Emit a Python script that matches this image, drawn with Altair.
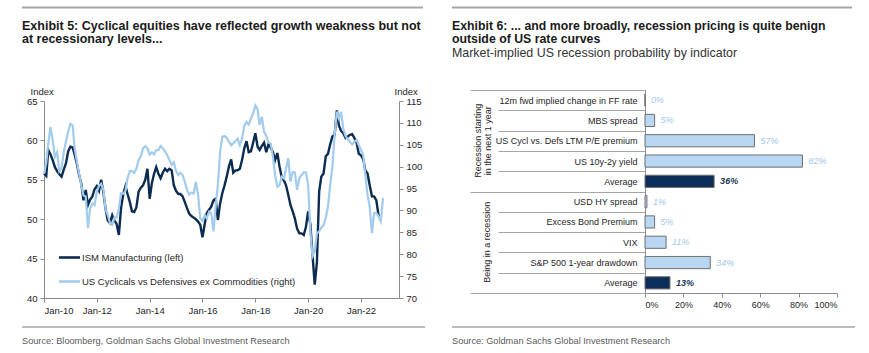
import json
import altair as alt
import pandas as pd

# ---------------- data ----------------
ism_values = [
    55.8, 55.5, 58.8, 58.2, 57.5, 56.6, 56.1, 55.7, 55.4, 56.3, 57.1, 58.6,
    59.2, 59.1, 58.2, 57.0, 55.6, 54.5, 52.4, 53.7, 51.8, 52.5, 52.9, 53.8,
    54.2, 53.6, 55.0, 53.4, 51.3, 49.8, 49.5, 50.5, 49.8, 49.4, 48.0, 51.4,
    53.2, 54.2, 53.2, 52.2, 51.0, 50.9, 51.5, 53.5, 54.0, 54.3, 55.0, 56.4,
    52.6, 54.6, 55.7, 56.6, 55.8, 55.2, 55.9, 56.4, 56.1, 56.4, 56.2, 54.3,
    53.6, 53.2, 53.2, 52.9, 52.2, 51.4, 50.7, 50.4, 50.2, 50.0, 49.7, 49.3,
    47.7, 49.4, 50.8, 51.2, 51.6, 52.4, 52.6, 49.9, 52.0, 53.3, 54.3, 55.4,
    56.7, 57.6, 55.9, 56.2, 56.2, 56.4, 57.5, 59.0, 59.9, 58.5, 58.6, 59.7,
    60.9, 59.2, 58.8, 59.3, 59.7, 58.5, 59.5, 59.1, 58.5, 57.5, 58.4, 56.7,
    55.3, 54.9, 54.3, 53.1, 51.8, 51.0, 50.1, 48.8, 48.2, 48.2, 48.0, 49.0,
    51.0, 49.3, 45.5, 41.7, 44.5, 53.5, 55.4, 55.8, 58.0, 58.3, 59.5, 60.5,
    60.7, 63.8, 61.9, 61.2, 60.9, 60.3, 60.5, 60.7, 60.8, 60.3, 59.7, 58.3,
    58.1, 57.6, 56.2, 55.8, 54.3, 52.9, 52.9, 52.4, 50.4,
]
cyc_values = [
    98.4, 100.8, 105.3, 109.1, 106.0, 102.2, 103.3, 99.0, 99.7, 103.3, 105.8, 108.0,
    109.8, 109.4, 104.2, 101.1, 98.4, 95.7, 93.4, 93.2, 86.0, 90.5, 91.6, 91.2,
    94.3, 95.6, 96.1, 94.7, 90.2, 88.9, 87.1, 86.7, 88.4, 88.4, 90.5, 93.9,
    93.8, 94.5, 97.4, 99.0, 99.0, 98.6, 99.5, 101.5, 102.4, 104.2, 104.7, 104.2,
    102.8, 103.3, 102.8, 103.8, 103.8, 104.7, 104.2, 103.5, 102.6, 101.5, 100.4, 101.0,
    99.0, 98.1, 98.6, 98.1, 96.6, 94.7, 93.6, 94.1, 93.9, 96.5, 93.6, 88.2,
    87.6, 88.9, 88.2, 89.7, 89.4, 85.2, 90.9, 95.8, 103.4, 106.8, 107.0, 106.6,
    105.7, 104.9, 105.3, 105.8, 106.4, 104.9, 106.4, 109.3, 110.2, 109.6, 111.0, 112.1,
    114.0, 113.1, 109.5, 111.4, 108.0, 107.0, 105.5, 105.3, 102.3, 98.1, 95.4, 95.8,
    97.7, 97.3, 99.6, 101.9, 96.6, 98.8, 98.7, 94.7, 97.3, 98.1, 98.7, 98.7,
    95.8, 85.2, 79.5, 80.6, 84.8, 85.2, 86.1, 86.6, 88.4, 90.9, 95.8, 100.0,
    107.2, 112.6, 111.0, 112.5, 108.7, 107.0, 106.3, 105.7, 105.1, 105.7, 106.1, 104.9,
    103.8, 102.6, 98.1, 93.5, 90.9, 84.8, 89.4, 89.4, 88.6, 87.5, 92.8,
]
ism_dates = pd.date_range("2010-01-01", periods=len(ism_values), freq="MS").strftime("%Y-%m-%d").tolist()
cyc_dates = pd.date_range("2010-01-01", periods=len(cyc_values), freq="MS").strftime("%Y-%m-%d").tolist()

left_ticks = [40, 45, 50, 55, 60, 65]
right_ticks = [70, 75, 80, 85, 90, 95, 100, 105, 110, 115]
year_ticks = [2010, 2012, 2014, 2016, 2018, 2020, 2022]

bar_labels = ["12m fwd implied change in FF rate", "MBS spread", "US Cycl vs. Defs LTM P/E premium",
              "US 10y-2y yield", "Average", "USD HY spread", "Excess Bond Premium", "VIX",
              "S&P 500 1-year drawdown", "Average"]
bar_values = [0, 5, 57, 82, 36, 1, 5, 11, 34, 13]
group_names = ["Recession starting in the next 1 year", "Being in a recession"]
group_text = ["Recession starting\nin the next 1 year", "Being in a recession"]
bar_groups = [group_names[0]] * 5 + [group_names[1]] * 5
pct_ticks = [0, 0.2, 0.4, 0.6, 0.8, 1.0]

# ---------------- style ----------------
FONT = "Liberation Sans, Arial, sans-serif"
DARK = "#0c2b50"
LIGHT = "#a2cbee"
BAR_LIGHT = "#b7d7f2"
BAR_DARK = "#0b2f5a"
LBL_LIGHT = "#a4c7e8"
LBL_DARK = "#1c3557"
AXIS_GRAY = "#8c8c8c"
RULE_GRAY = "#a6a6a6"
TXT = "#262626"

one = alt.Data(values=[{"k": 0}])


def text(t, x, y, size=9.5, weight="normal", color=TXT, align="left", baseline="alphabetic"):
    return alt.Chart(one).mark_text(text=t, align=align, baseline=baseline, font=FONT,
                                    fontSize=size, fontWeight=weight, color=color).encode(
        x=alt.value(x), y=alt.value(y))


def hrule(x1, x2, y, color=RULE_GRAY, width=2.0):
    return alt.Chart(one).mark_rule(color=color, strokeWidth=width).encode(
        x=alt.value(x1), x2=alt.value(x2), y=alt.value(y))


# ---------------- left panel: lines ----------------
ism_df = pd.DataFrame({"date": ism_dates, "value": ism_values})
cyc_df = pd.DataFrame({"date": cyc_dates, "value": cyc_values})

xdate_scale = alt.Scale(type="utc",
                        domain=[alt.DateTime(year=2010, month=1, date=1, utc=True),
                                alt.DateTime(year=2023, month=6, date=10, utc=True)],
                        range=[44, 399])

date_axis = alt.Axis(orient="bottom", offset=-55, labelExpr="utcFormat(datum.value, '%b-%y')",
                     values=[alt.DateTime(year=y, month=1, date=1, utc=True) for y in year_ticks],
                     title=None, tickSize=4, labelPadding=3, domainColor=AXIS_GRAY, tickColor=AXIS_GRAY,
                     labelFontSize=9.5, labelColor=TXT, grid=False)

ism_line = alt.Chart(ism_df).mark_line(color=DARK, strokeWidth=2.4).encode(
    x=alt.X("date:T", scale=xdate_scale, axis=date_axis),
    y=alt.Y("value:Q", scale=alt.Scale(domain=[40, 65], range=[298, 101], nice=False, zero=False),
            axis=alt.Axis(orient="left", offset=-44, values=left_ticks, title="Index",
                          titleAngle=0, titleX=-14, titleY=94, titleAlign="left", titleBaseline="alphabetic",
                          titleFontSize=9.5, titleFontWeight="normal", titleColor=TXT,
                          tickSize=4, labelPadding=3, domainColor=AXIS_GRAY, tickColor=AXIS_GRAY,
                          labelFontSize=9.5, labelColor=TXT, grid=False)),
)

cyc_line = alt.Chart(cyc_df).mark_line(color=LIGHT, strokeWidth=2.2).encode(
    x=alt.X("date:T", scale=xdate_scale, axis=None),
    y=alt.Y("value:Q", scale=alt.Scale(domain=[70, 115], range=[298, 101], nice=False, zero=False),
            axis=alt.Axis(orient="right", offset=-470, values=right_ticks, title="Index",
                          titleAngle=0, titleX=-5, titleY=94, titleAlign="left", titleBaseline="alphabetic",
                          titleFontSize=9.5, titleFontWeight="normal", titleColor=TXT,
                          tickSize=4, labelPadding=3, domainColor=AXIS_GRAY, tickColor=AXIS_GRAY,
                          labelFontSize=9.5, labelColor=TXT, grid=False)),
)

legend = [
    hrule(59, 80, 257.5, color=DARK, width=2.6),
    text("ISM Manufacturing (left)", 82, 257.5, size=9.5, baseline="middle"),
    hrule(59, 80, 281.5, color=LIGHT, width=2.6),
    text("US Cyclicals vs Defensives ex Commodities (right)", 82, 281.5, size=9.5, baseline="middle"),
]

# ---------------- right panel: bars ----------------
bar_df = pd.DataFrame({
    "row": list(range(len(bar_labels))),
    "label": bar_labels,
    "value": [v / 100 for v in bar_values],
    "group": bar_groups,
    "kind": ["avg" if l == "Average" else "ind" for l in bar_labels],
})

row_scale = alt.Scale(type="band", domain=list(range(len(bar_labels))), range=[90, 293],
                      paddingInner=0, paddingOuter=0)
pct_scale = alt.Scale(domain=[0, 1], range=[645, 837], nice=False, zero=True)
grp_scale = alt.Scale(type="band", domain=group_names, range=[90, 293], paddingInner=0, paddingOuter=0)

label_expr = json.dumps(bar_labels) + "[datum.value]"

bars = alt.Chart(bar_df).mark_bar(height=alt.RelativeBandSize(0.6), stroke="#6f6f6f", strokeWidth=1).encode(
    y=alt.Y("row:O", scale=row_scale,
            axis=alt.Axis(orient="left", offset=-645, tickBand="extent", tickSize=147, labelPadding=-139,
                          labelExpr=label_expr, labelAlign="right", labelBaseline="middle",
                          labelFontSize=9, labelColor=TXT, tickColor=RULE_GRAY, domainColor=AXIS_GRAY,
                          title=None, grid=False, labelLimit=300)),
    x=alt.X("value:Q", scale=pct_scale,
            axis=alt.Axis(orient="bottom", offset=-60, format=".0%", values=pct_ticks, tickSize=4,
                          labelPadding=3, domainColor=AXIS_GRAY, tickColor=AXIS_GRAY,
                          labelFontSize=9, labelColor=TXT, title=None, grid=False)),
    color=alt.Color("kind:N", scale=alt.Scale(domain=["ind", "avg"], range=[BAR_LIGHT, BAR_DARK]), legend=None),
)

val_ind = alt.Chart(bar_df).transform_filter("datum.kind == 'ind'").mark_text(
    align="left", baseline="middle", dx=6, fontStyle="italic", fontSize=9, font=FONT, color=LBL_LIGHT).encode(
    y=alt.Y("row:O", scale=row_scale, axis=None),
    x=alt.X("value:Q", scale=pct_scale, axis=None),
    text=alt.Text("value:Q", format=".0%"),
)
val_avg = alt.Chart(bar_df).transform_filter("datum.kind == 'avg'").mark_text(
    align="left", baseline="middle", dx=6, fontStyle="italic", fontWeight="bold", fontSize=9, font=FONT,
    color=LBL_DARK).encode(
    y=alt.Y("row:O", scale=row_scale, axis=None),
    x=alt.X("value:Q", scale=pct_scale, axis=None),
    text=alt.Text("value:Q", format=".0%"),
)

grp_df = pd.DataFrame({"group": group_names, "text": group_text})
group_axis = alt.Chart(grp_df).mark_point(opacity=0).encode(
    x=alt.value(645),
    y=alt.Y("group:N", scale=grp_scale,
            axis=alt.Axis(orient="left", offset=-645, tickBand="extent", tickSize=175, labels=False,
                          tickColor=RULE_GRAY, domain=False, title=None, grid=False)),
)


def group_label(i, xpos):
    return alt.Chart(grp_df).transform_filter(f"datum.group == '{group_names[i]}'").mark_text(
        angle=270, align="center", baseline="middle", lineBreak="\n", lineHeight=10,
        fontSize=9, font=FONT, color=TXT).encode(
        x=alt.value(xpos),
        y=alt.Y("group:N", scale=grp_scale, axis=None, bandPosition=0.5),
        text="text:N",
    )


# ---------------- titles / sources ----------------
TCOL = "#1a1a1a"
texts = [
    hrule(22, 423, 7.5),
    hrule(452, 852, 7.5),
    text("Exhibit 5: Cyclical equities have reflected growth weakness but not", 22, 29.5, size=12.5,
         weight="bold", color=TCOL),
    text("at recessionary levels...", 22, 43, size=12.5, weight="bold", color=TCOL),
    text("Exhibit 6: ... and more broadly, recession pricing is quite benign", 452, 29.5, size=12.3,
         weight="bold", color=TCOL),
    text("outside of US rate curves", 452, 43, size=12.3, weight="bold", color=TCOL),
    text("Market-implied US recession probability by indicator", 452, 56.5, size=12.4, color="#333333"),
    hrule(22, 425, 327, width=1.6),
    hrule(452, 855, 327, width=1.6),
    text("Source: Bloomberg, Goldman Sachs Global Investment Research", 22, 344, size=9.2, color="#595959"),
    text("Source: Goldman Sachs Global Investment Research", 452, 344, size=9.2, color="#595959"),
]

chart = alt.layer(
    ism_line, cyc_line, *legend, group_axis, group_label(0, 478), group_label(1, 487),
    bars, val_ind, val_avg, *texts
).resolve_scale(
    x="independent", y="independent", color="independent"
).properties(
    width=869, height=353, autosize=alt.AutoSizeParams(type="none"), padding=0, background="white"
).configure_view(stroke=None).configure_axis(labelFont=FONT, titleFont=FONT)

chart.save("out.html", embed_options={"renderer": "svg", "actions": False})
